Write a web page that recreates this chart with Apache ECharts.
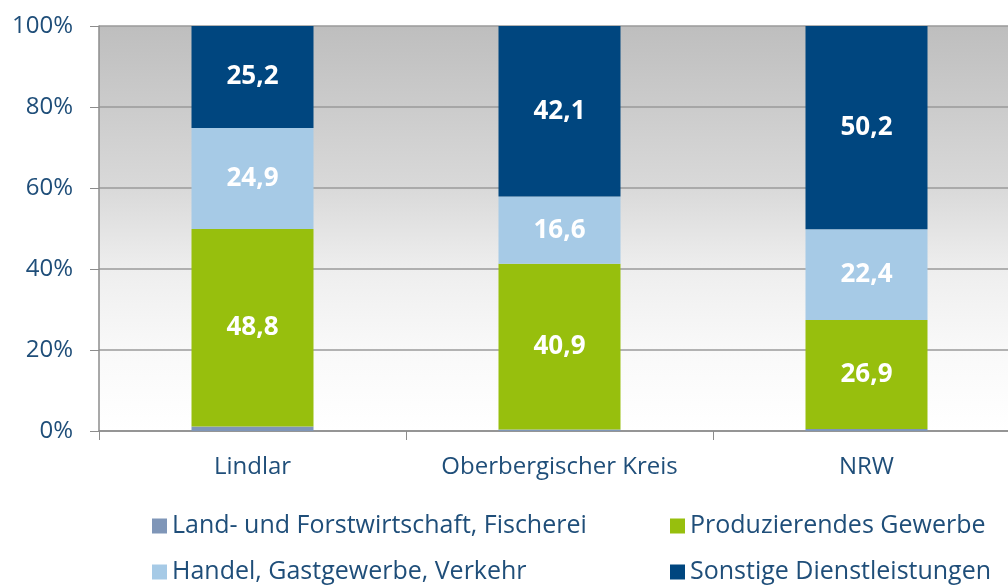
<!DOCTYPE html>
<html lang="de">
<head>
    <meta charset="UTF-8">
    <title>Erwerbstätige nach Wirtschaftsbereichen</title>
    <script type="text/javascript" src="https://cdn.jsdelivr.net/npm/echarts@6/dist/echarts.min.js"></script>
    <style type="text/css">
        html,body{margin:0;padding:0;background:#fff;}
        #main{width:1008px;height:585px;}
    </style>
</head>
<body>
<div id="main"></div>
<script type="text/javascript">
    // Kategorien
    var categories = ['Lindlar', 'Oberbergischer Kreis', 'NRW'];
    // Anteile in %
    var landForst = [1.1, 0.4, 0.5];
    var produzierend = [48.8, 40.9, 26.9];
    var handel = [24.9, 16.6, 22.4];
    var sonstige = [25.2, 42.1, 50.2];
    var seriesNames = ['Land- und Forstwirtschaft, Fischerei', 'Produzierendes Gewerbe', 'Handel, Gastgewerbe, Verkehr', 'Sonstige Dienstleistungen'];
    var yTicks = [0, 20, 40, 60, 80, 100];

    var textBlue = '#1f4e79';
    var fontFam = '"Open Sans", "Noto Sans", sans-serif';

    function deLabel(p) {
        return p.value.toFixed(1).replace('.', ',');
    }

    function barSeries(name, data, color, showLabel) {
        return {
            name: name,
            type: 'bar',
            stack: 'total',
            data: data,
            barWidth: 122,
            itemStyle: {color: color},
            label: {
                show: showLabel,
                position: 'inside',
                color: '#fff',
                fontWeight: 'bold',
                fontSize: 26,
                fontFamily: fontFam,
                formatter: deLabel
            }
        };
    }

    // eine Legende pro Eintrag, damit die Spalten sauber stehen
    function legendItem(name, left, top) {
        return {
            left: left,
            top: top,
            padding: 0,
            itemWidth: 15,
            itemHeight: 15,
            itemGap: 6,
            icon: 'rect',
            data: [name],
            textStyle: {color: textBlue, fontSize: 25, fontFamily: fontFam, lineHeight: 30}
        };
    }

    var myChart = echarts.init(document.getElementById('main'));
    var option = {
        animation: false,
        grid: {
            left: 99,
            top: 26,
            width: 921,
            height: 405,
            outerBoundsMode: 'none',
            show: true,
            borderWidth: 0,
            backgroundColor: new echarts.graphic.LinearGradient(0, 0, 0, 1, [
                {offset: 0, color: '#bebebe'},
                {offset: 0.4, color: '#d9d9d9'},
                {offset: 0.6, color: '#eeeeee'},
                {offset: 0.8, color: '#f9f9f9'},
                {offset: 1, color: '#ffffff'}
            ])
        },
        legend: [
            legendItem(seriesNames[0], 152, 511),
            legendItem(seriesNames[1], 670, 511),
            legendItem(seriesNames[2], 152, 557),
            legendItem(seriesNames[3], 670, 557)
        ],
        xAxis: {
            type: 'category',
            data: categories,
            axisLine: {lineStyle: {color: '#8c8c8c', width: 1.5}},
            axisTick: {show: true, length: 9, lineStyle: {color: '#8c8c8c'}},
            axisLabel: {color: textBlue, fontSize: 24, fontFamily: fontFam, margin: 24, interval: 0}
        },
        yAxis: {
            type: 'value',
            min: yTicks[0],
            max: yTicks[yTicks.length - 1],
            interval: 20,
            axisLine: {show: true, lineStyle: {color: '#8c8c8c', width: 1.5}},
            axisTick: {show: true, length: 9, lineStyle: {color: '#8c8c8c'}},
            splitLine: {show: true, lineStyle: {color: '#9a9a9a', width: 1.5}},
            axisLabel: {color: textBlue, fontSize: 24, fontFamily: fontFam, margin: 26, formatter: '{value}%'}
        },
        series: [
            barSeries(seriesNames[0], landForst, '#7f96b8', false),
            barSeries(seriesNames[1], produzierend, '#97bf0d', true),
            barSeries(seriesNames[2], handel, '#a6cae6', true),
            barSeries(seriesNames[3], sonstige, '#00467f', true)
        ]
    };
    myChart.setOption(option);
</script>
</body>
</html>
